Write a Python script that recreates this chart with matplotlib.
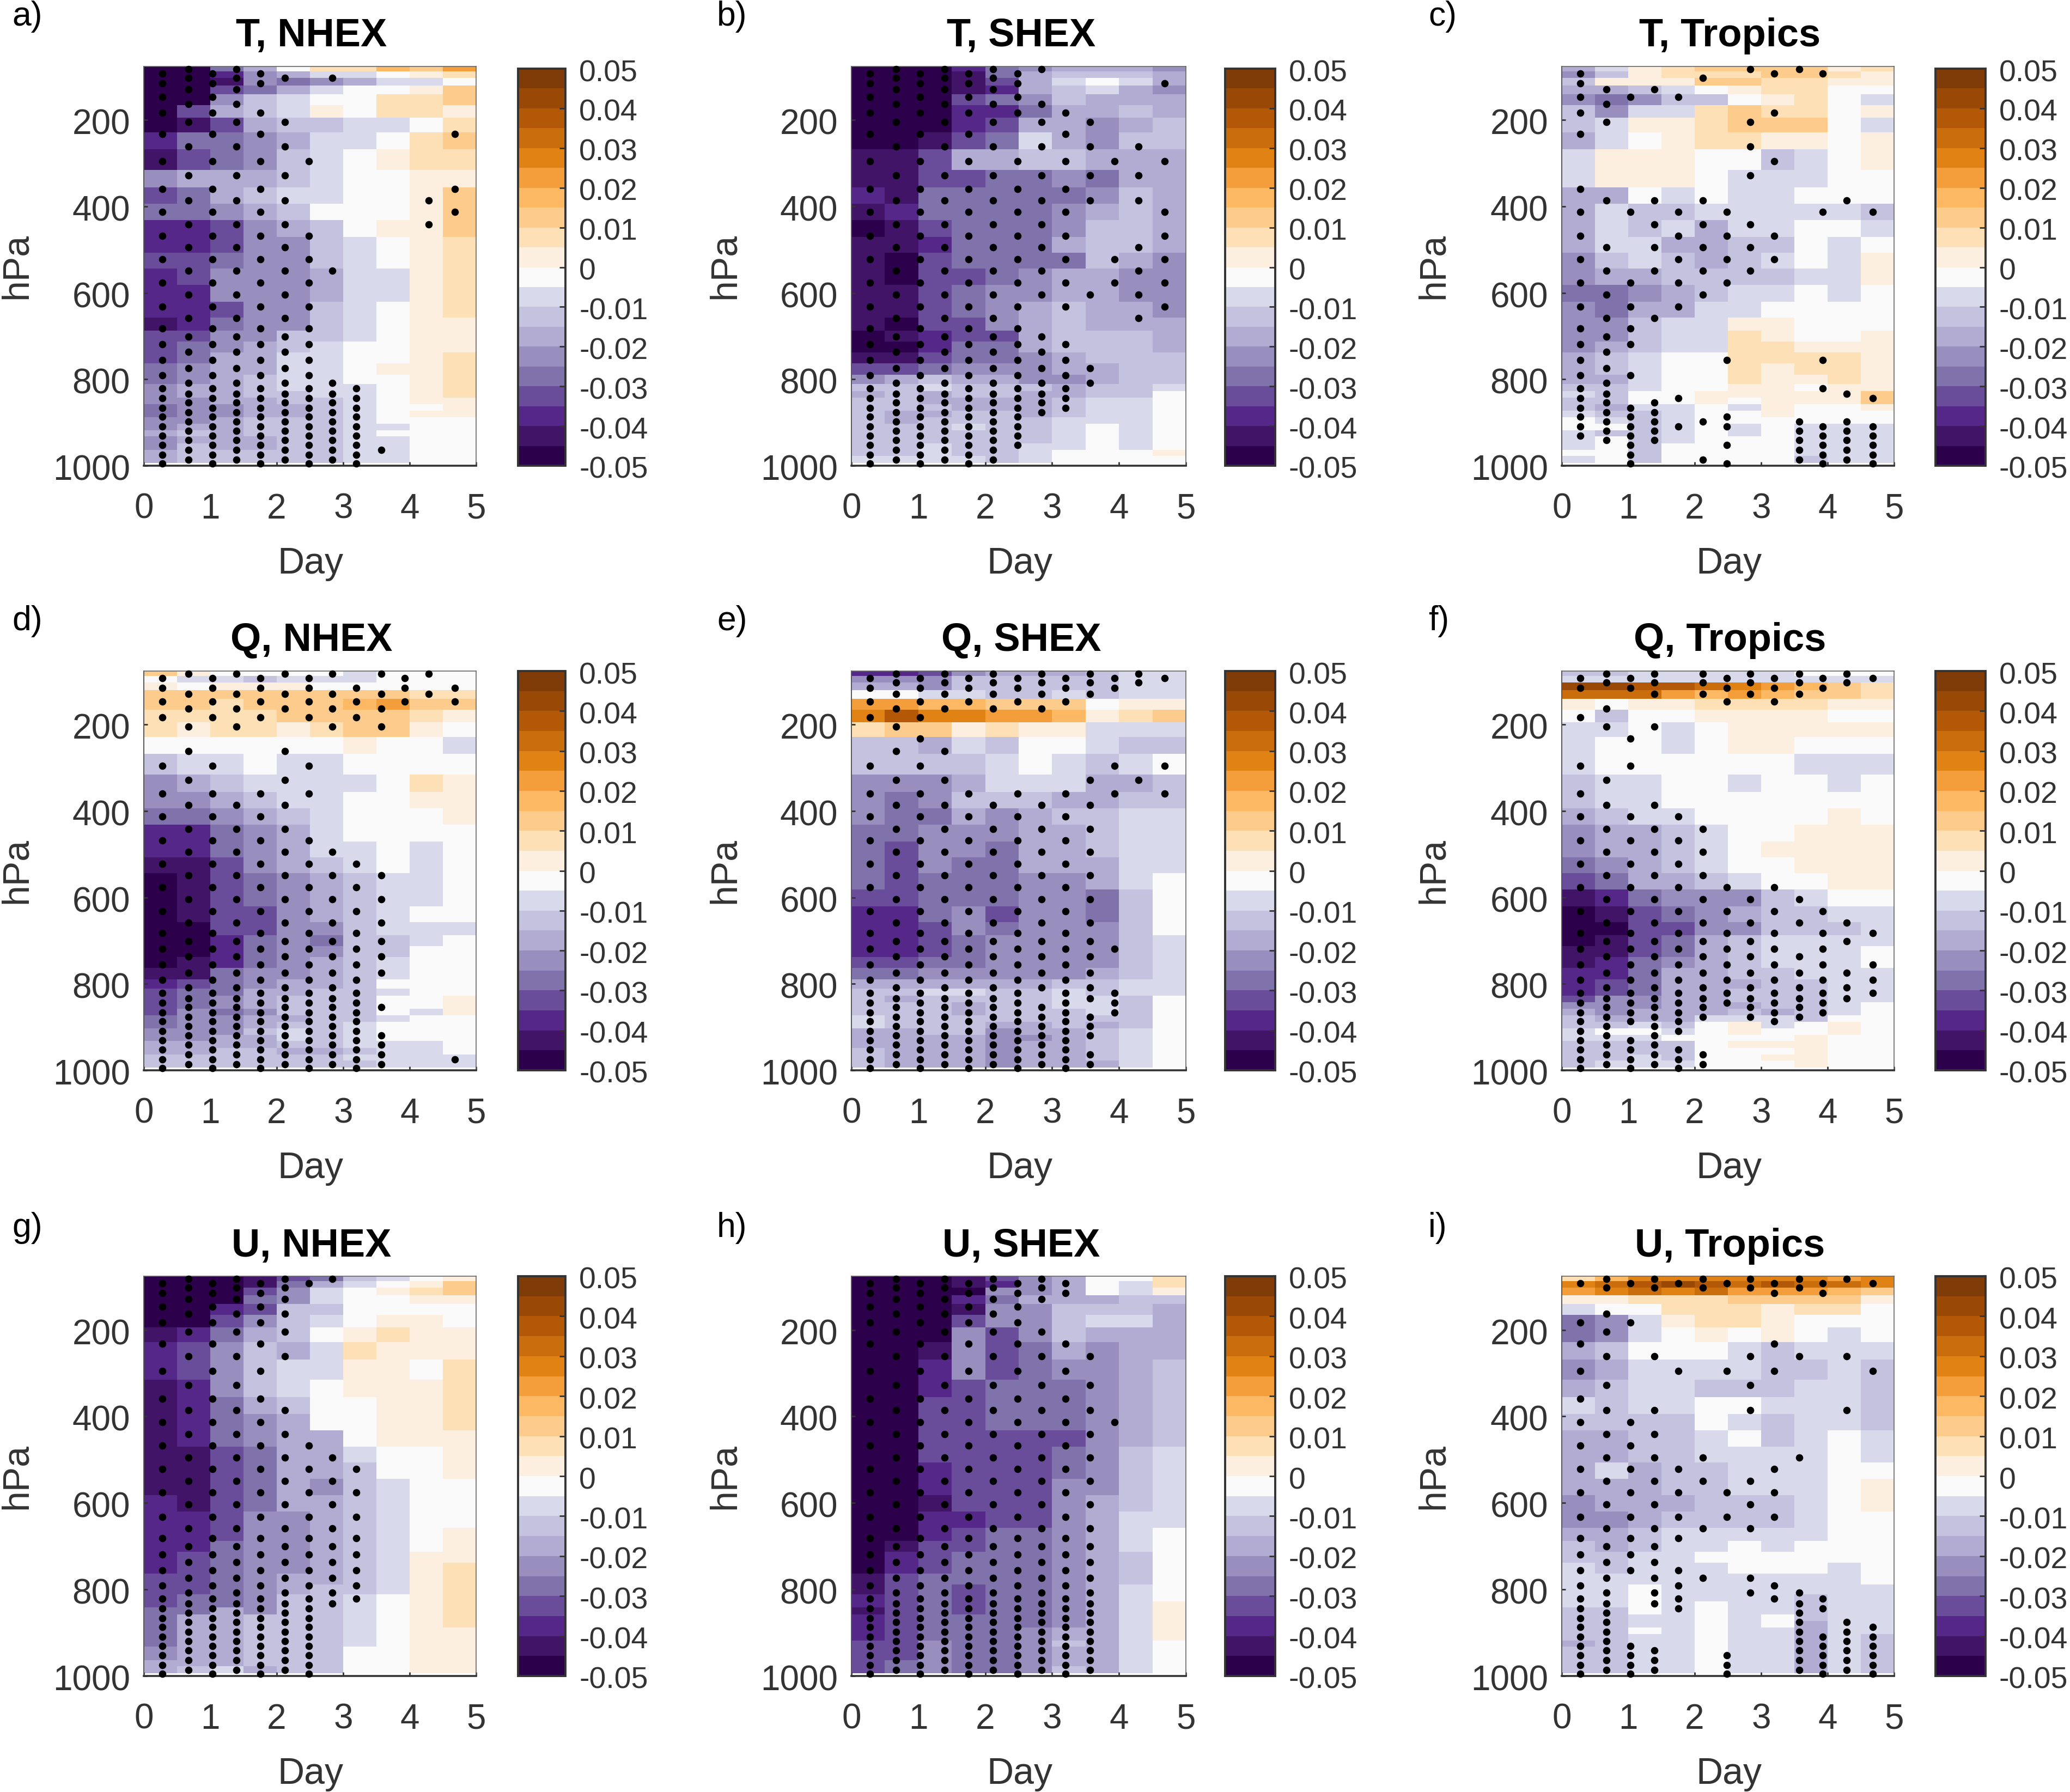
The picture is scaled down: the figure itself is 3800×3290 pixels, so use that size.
import numpy as np
import matplotlib
matplotlib.use("Agg")
import matplotlib.pyplot as plt
from matplotlib.colors import ListedColormap, BoundaryNorm
from matplotlib.transforms import ScaledTranslation

W, H = 3800, 3290
DPI = 100
plt.rcParams['font.family'] = ['Liberation Sans', 'DejaVu Sans']

# colour bands, darkest purple to darkest brown
BAND_COLORS = ['#2d004b', '#411468', '#542788', '#6a4d9a', '#8073ac', '#998fbf', '#b2abd2',
               '#c5c2df', '#d8daeb', '#fafafa', '#fdefdf', '#fee0b6', '#fdcc8c', '#fdb863',
               '#f49d3b', '#e08214', '#ca6d0d', '#b35806', '#994905', '#7f3b08']
LEVELS = np.round(np.arange(-0.05, 0.0501, 0.005), 4)
BAND_KEYS = 'abcdefghijklmnopqrst'

DAY_EDGES = [0, 0.5, 1, 1.5, 2, 2.5, 3, 3.5, 4, 4.5, 5]
HPA_EDGES = [76, 87.5, 102, 120, 140, 165, 194, 228, 268, 315, 356, 394, 432, 470, 507, 544, 582, 620, 657,
             688, 713, 738, 763, 789, 811, 827, 842, 858, 873, 888, 903, 918, 932, 948, 963, 977, 994]

# stippling: time of each of the 13 dot columns and the two alternating level sets
DOT_DAYS = [0.276, 0.671, 1.03, 1.395, 1.75, 2.12, 2.48, 2.84, 3.2, 3.57, 3.93, 4.29, 4.68]
DOT_HPA_A = [92, 115, 146, 183, 232, 295, 359, 413, 468, 522, 576, 632, 682, 719, 756, 791, 821, 844, 866,
             887, 909, 931, 952, 975, 995]
DOT_HPA_B = [82, 103, 129, 163, 205, 261, 328, 386, 441, 495, 549, 604, 659, 701, 737, 774, 808, 833, 854,
             876, 898, 919, 941, 964, 986]

# binned values: one string per pressure row, one letter per half day (see BAND_KEYS)
T_NHEX = """aaegjllnmo aacfgiijkl aabfefgiij aadegijjkm aafhijjllm adghikjllk abdghhiijl ceefgiijlm
bdefhijkll fggghijjkk deghiijjkm eefghjjjkm ccdfghjkkm ccdffhijkl ddeffhijkl cdfffgiikl ccfffgiikl
ccdffhijkl bceffhijkk ddffhhijkk defghijjkk deggiijjkl efggiijkkl efghiijjkl fgghiiijkl fgghhiijkl
ffgghhijkk effgghijjk effgghijkk ffghhhijjj fgghhhiijj ghghhhijjj fggghhiijj fhgghhiijj ghhhhhiijj
ghhhhhiijj""".split()
T_SHEX = """aaacefgggf aaabeghhhg aaabdgijig aaabcghigf aaadefhggg aaaccegghg aaacdggfgh aabdeigfhh
bbdgghhggg bbddeefegg cbeeeeefhg bceeeefghg abdeeefhhg bbceeeghhg badeeeehgf baddefggff bbdeffggff
bbdefghggf baddfghggg abcddghhhg aaceeghhhg bbdeefghhh ddefffgghh fghggffghh hhihhhghhi ghghhgghhj
hhgggghiij hhhggghiij hgghhghiij hghhhhiiij hhhihhijij hhhhhhijij hhhhhhijij hhihhiijij hhihhijjjk
iiiihijjjj""".split()
T_TROP = """giklmmmmkl fhklllmmlk hkkkmmllkk gghijklljj fefhhjklji hfiilmlljk hikklmmmji gijkllkkjk
ikkkjjhijk ikkkjiiijj ggjijiijjj gihhiiiiih gihigiijji giigghhjij fhihghijik fgghhhhiik eefghiijij
feggiijjjj ffhiikkjjj ffhiilkjjk fghiillkkk ghijjllllk ghijjlkllk ggijjlkklk hhijjkkjkk ihjjkkkkkm
hhjjkjkkkm hgiijikjjk ihhijjkjjj jihijjjjjj jjhijijiii ihhijijiii ijhijjjiii ijhjjjjiii jjhjjjjiii
ijhjjjjhii""".split()
Q_NHEX = """mkjjjjijjj jiihiiijjj kjkkkjjjjj mmmmmmmmll mmlmmmnomm llllmmmmlk lkllklmmkj jjjjjjkjji
hiijiijjjj fghiiiijlk ffghiijjkk eefghijjjk ccefgijjjj ccefgiijij bbdfghijij abdefghiij abdefghiij
abddfghijj aaddffhiii aacefehhij aaceffhhjj abcefghijj bbeffghijj cdefgghjjj deegghhijj defghhhjjk
defghhhjjk dfefhhhjik effgghhijj effghhijjj fffhihijjj ffggihijjj gggghhiiij gghhgghiij hhhhhhiiii
hhhhhhhiii""".split()
Q_SHEX = """ccdfggghii fffhhhhhii ggfhhhhhii jjiihhihii oonnmmmjkk prppoonklm lmmklkkiii hhgihjjihh
hhhhijihij fffgiiiggh fefhhhgghh feegfghhii eefffgghii edffegghii edfeegggii edeeeffgij ddeeeffehj
ccefdffehj ccdfefffhj ccdeffffhi ccdeffffhi ddeeffffhi eefffffghi gggggghhii hhiihhihii hghhhhiihj
hhhghhiihj hhhghhhihj ihhhhhhhhj ihhhgghghj gghhfgghij ggggffghij ggggfgghij hgggfgghij hgggfgghij
hgggfgggij""".split()
Q_TROP = """hhiiiiijjj iiiiiiiiii ssrrqponml qqqononmml kjkkllllkk jhjjkkkkjj iijijkkkkk ijjijkkjjj
ijjjjjjiii hiijjijjij hiijjjjjjj ghiijjjjkj fgghijjkkk fgghijkkkk efghijjkkk degghijjkk bcefffhijj
abdefghhii aaddffhhhi abdeghiiii bbdeghiiij bcefghiiij ccegghhiii cdeggghhii cdegghhhii dffgghhhii
fffggghhij gfggghghij hgggiiihjj hhihjkijkj ijjijkjjkj iiijjjjkjj hhhhjkkkjj hhhhjjjkjj hhihjjkkjj
hiiijjjkjj""".split()
U_NHEX = """aaabdehijk aaabegijkm aaadfijklm aaaefijjkk aacdhhjjjj aadfhijkkj bceghjklkk cdfhgilkkk
cdfhiikkjl bcfhijkkkl bceghjjkkl bcefgjjkkl bcefggjkkk bbdeggijjk bbdegghjjk bbdegfhijj cbdegghijj
ccdffghijj ccdffghijk cceffghijk cdeffghikk cdeffghikl ddefgghikl ddefghhikl deefhhijkl deefhhijkl
eegfhhijkl egghhhijkl egghhhijkl egghhhijkk egghhhijkk egghhhijkk fgghhhjjkk fgghhhjjkk ggghhhjjkk
ghighhjjkk""".split()
U_SHEX = """aaabdfgjjl aaabcfgjil aaaaffgjik aaaceggghh aaabffhhhg aaadffhiig aaafdfhggg aabfdegfgg
aacfdeffgh aacdeeefgh aaddeeefgh aaddeeefgh aadddddfgh aaddddefhi aacdddefhi aacdddffhi aabdddfghi
aaccddfgii aacdeefgij abddeefgij acdeeefghj acdeeefghj bdeeeefghj bdedeefgij cdedeefgij cdedeefgik
bdedeefgik cdeeeefgik cdeeeefgik cdeeefggik cdeeefggik ddfeefhgij ddfeefggij ddfeefggij defeefggij
defeefhgij""".split()
U_TROP = """lnppppppop pqrsrqrqqp opqpqooonm kklllmmmmk ijjlllkllj efikllkjjj efijkjkjij ghjjjihiii
fgiiiihhih ghiihhhiih ihiijjiiih hhhhjihiih gghhijhiji gghhiiiiji gighhiiijj ggghhiiijk fggghhhijk
ffghhhhijj gghiiiiijj hghiijijjj hhiijjjjjj ihiiijjjij iiiiiiiiij iijiiiiiii iijiiiihii iijijiihii
hhjijiihii hhiijijhii hhiijijgii hhjijiigii hhiijiigih ghiijiigih hhiijiigih hhiijiigih hhiijiigih
hhiijiigih""".split()

# dots per column of DOT_DAYS; odd-numbered columns use DOT_HPA_A, even-numbered ones DOT_HPA_B
ALL = "##### ##### ##### ##### #####"
NON = "..... ..... ..... ..... ....."
D_T_NHEX = [ALL, ALL, ALL, ALL, "##.## ##### ##### ##### #####", ".#..# ##### ##### ##### #####",
            "..... #..## ##### ##### #####", ".#... ..... #.... .#### #####", "..... ..... ..... .#### #####",
            "..... ..... ..... ..... ...#.", NON, "..... ..##. ..... ..... .....", "....# .##.. ..... ..... ....."]
D_T_SHEX = [ALL, ALL, ALL, ALL, ALL, ALL, "####. ##### ##### ##### ###..", "#..## ##### ##.## ##### .....",
            "...## ##### ##.## ####. .....", "....# ###.. .#... ##... .....", "..... #...# #.... ..... .....",
            "..... ###.# ###.. ..... .....", ".#... #.### ##... ..... ....."]
D_T_TROP = ["##### .#### ##### ##### ##...", "..### ..#.# ##### ##### ###..", "..#.. ..#.. ####. #..## #####",
            "..#.. ..### #.#.. ...## ###..", "..#.. ..### ##... ..#.. #....", ".#... ..### ##... ..... #...#",
            "..... ..### #...# ....# #.#.#", "#...# ##.## #.... ..... .....", "#..#. #..## ..... ..... .....",
            "#.... ..... ..... ..... #####", "#.... ..#.. ....# .#... #####", "..... ..#.. ..... ..#.. #####",
            "..... ..#.. ..... ..#.. #####"]
D_Q_NHEX = ["####. ##### ##### ##### #####", "#.### ##### ##### ##### #####", "####. ##### ##### ##### #####",
            "#.### ..### ##### ##### #####", "####. .#### ##### ##### #####", "#.##. ##### ##### ##### #####",
            "####. ##.## ##### ##### #####", "#.### ....# ##### ##### #####", ".###. ....# ##### ##### #####",
            "#.### ..... ##### #..#. .####", "###.. ..... ..... ..... .....", "#.#.. ..... ..... ..... .....",
            ".##.. ..... ..... ..... ...#."]
D_Q_SHEX = ["####. ##### ##### ##### #####", ALL, ALL, "####. ##### ##### ##### #####",
            "###.. .#### ##### ##### #####", "####. ..### ##### ##### #####", "###.. .#### ##### ##### #####",
            "####. ..### ##### ##.## #####", "###.. .#### ##### ##### #####", "###.. .#### ##### ###.# ##.##",
            "##... ##... ...#. .###. .....", "##... .#... ..... ..... .....", "#.... ##... ..... ..... ....."]
D_Q_TROP = ["##.#. ##### ##### ##### #####", "##.## .#### ##### ##### #####", "##..# #.### ##### ##### .####",
            "###.# ..### ##### ##### #####", "..... ..### ##### ##### #.###", "###.. ...## ##### ##### ...##",
            "###.. ..... ##### ###.. .....", "###.. ..... .#### ##### .....", "###.. ..... ##### ##### .....",
            "###.. ..... .##.# ##### .....", "##... ..... .#### ####. .....", "##... ..... ..##. ###.. .....",
            "#.... ..... ..#.# ##... ....."]
D_U_NHEX = [ALL, ALL, ALL, ALL, ALL, "##### #.### ##### ##### #####", "#.... ...## ##### ##### #####",
            "#.... ....# ##### ###.. .....", "..... ....# ##### ##... .....", NON, NON, NON, NON]
D_U_SHEX = [ALL, ALL, ALL, ALL, ALL, ALL, ALL, "###.# ##### ##### ##### #####", "##..# ##### ##### ##### #####",
            "..... ##### ##### ##### #####", "..... ..#.. ..... ..... .....", NON, NON]
D_U_TROP = ["#..## ##### ##### ##### #####", "##.## ##### ##### ##### #####", "#..#. ..### ##### ..... .####",
            "##... #.### ##### ###.. ..###", "#.... #...# ###.# ###.. .....", "##... ....# #.#.. #.... .....",
            "#.... #.... ##... ..... ..###", "##... ###.. ###.. ##... .....", "##..# #...# ##... ##... .....",
            "##... #...# ..... .#### #####", "##... ..... ..... .##.. #####", "#.... #.#.. ..... ....# #####",
            "#.... #.... ..... ....# #####"]

TITLES = ["T, NHEX", "T, SHEX", "T, Tropics", "Q, NHEX", "Q, SHEX", "Q, Tropics", "U, NHEX", "U, SHEX", "U, Tropics"]
LETTERS = ["a)", "b)", "c)", "d)", "e)", "f)", "g)", "h)", "i)"]
CB_TICKS = [-0.05, -0.04, -0.03, -0.02, -0.01, 0, 0.01, 0.02, 0.03, 0.04, 0.05]
CB_LABELS = ["-0.05", "-0.04", "-0.03", "-0.02", "-0.01", "0", "0.01", "0.02", "0.03", "0.04", "0.05"]

# layout in pixels
COL_X = [(264, 874), (1563, 2177), (2867, 3477)]
ROW_Y = [(122, 855), (1232, 1965), (2343, 3077)]
CB_X = [(951, 1038), (2249, 2341), (3553, 3645)]
CB_TOP = [126, 1232, 2343]
TITLE_X = [572, 1875, 3176]
TITLE_Y = [66, 1176, 2288]
DAY_X = [570, 1872, 3174]
DAY_Y = [1035, 2145, 3257]
HPA_X = [31, 1331, 2632]
LET_X = [22, 1316, 2622]
LET_Y = [30, 1140, 2254]

TXT = '#333333'
FS_AX = 46
FS_CB = 40
FS_LAB = 49

PANELS = [T_NHEX, T_SHEX, T_TROP, Q_NHEX, Q_SHEX, Q_TROP, U_NHEX, U_SHEX, U_TROP]
DOTS = [D_T_NHEX, D_T_SHEX, D_T_TROP, D_Q_NHEX, D_Q_SHEX, D_Q_TROP, D_U_NHEX, D_U_SHEX, D_U_TROP]


def decode(rows):
    return np.array([[LEVELS[BAND_KEYS.index(ch)] + 0.0025 for ch in r] for r in rows])


cmap = ListedColormap(BAND_COLORS)
norm = BoundaryNorm(LEVELS, cmap.N)

fig = plt.figure(figsize=(W / DPI, H / DPI), dpi=DPI, facecolor='white')


def box(x0, x1, y0, y1):
    return [x0 / W, 1 - y1 / H, (x1 - x0) / W, (y1 - y0) / H]


def nudge(labels, dy_px):
    off = ScaledTranslation(0, -dy_px / DPI, fig.dpi_scale_trans)
    for lab in labels:
        lab.set_transform(lab.get_transform() + off)


for i in range(9):
    r, c = i // 3, i % 3
    ax = fig.add_axes(box(*COL_X[c], *ROW_Y[r]))
    im = ax.pcolormesh(DAY_EDGES, HPA_EDGES, decode(PANELS[i]), cmap=cmap, norm=norm, shading='flat', linewidth=0)
    xs, ys = [], []
    for k, col in enumerate(DOTS[i]):
        mask = col.replace(" ", "")
        lev = DOT_HPA_A if k % 2 == 0 else DOT_HPA_B
        for j, ch in enumerate(mask):
            if ch == '#':
                xs.append(DOT_DAYS[k])
                ys.append(lev[j])
    ax.scatter(xs, ys, s=95, c='black', linewidths=0, zorder=5, clip_on=False)
    ax.set_xlim(0, 5)
    ax.set_ylim(1000, 76)
    ax.set_xticks([0, 1, 2, 3, 4, 5])
    ax.set_yticks([200, 400, 600, 800, 1000])
    ax.tick_params(axis='x', direction='in', length=5, width=2, colors=TXT, labelsize=FS_AX, pad=36)
    ax.tick_params(axis='y', direction='in', length=5, width=2, colors=TXT, labelsize=FS_AX, pad=18)
    nudge(ax.get_yticklabels(), 3)
    ax.spines['bottom'].set_linewidth(2.6)
    ax.spines['bottom'].set_color('#333333')
    ax.spines['left'].set_linewidth(1.4)
    ax.spines['left'].set_color('#555555')
    ax.spines['top'].set_linewidth(1.2)
    ax.spines['top'].set_color('#666666')
    ax.spines['right'].set_linewidth(1.2)
    ax.spines['right'].set_color('#666666')

    cax = fig.add_axes(box(*CB_X[c], CB_TOP[r], ROW_Y[r][1]))
    cb = fig.colorbar(im, cax=cax, ticks=CB_TICKS, spacing='proportional', drawedges=False)
    cb.ax.set_yticklabels(CB_LABELS)
    cb.ax.tick_params(axis='y', direction='in', length=8, width=2, colors=TXT, labelsize=FS_CB, pad=18)
    cb.ax.minorticks_off()
    nudge(cb.ax.get_yticklabels(), 3)
    cb.outline.set_linewidth(2.8)
    cb.outline.set_edgecolor('#333333')

    fig.text(TITLE_X[c] / W, 1 - TITLE_Y[r] / H, TITLES[i], ha='center', va='center',
             fontsize=52, fontweight='bold', color='black')
    fig.text(DAY_X[c] / W, 1 - DAY_Y[r] / H, "Day", ha='center', va='center', fontsize=FS_LAB, color=TXT)
    fig.text(HPA_X[c] / W, 1 - (ROW_Y[r][0] + ROW_Y[r][1]) / 2 / H, "hPa", ha='center', va='center',
             rotation=90, fontsize=FS_LAB, color=TXT)
    fig.text(LET_X[c] / W, 1 - LET_Y[r] / H, LETTERS[i], ha='left', va='center', fontsize=45, color='black')

fig.savefig("out.png", dpi=DPI, facecolor='white')
